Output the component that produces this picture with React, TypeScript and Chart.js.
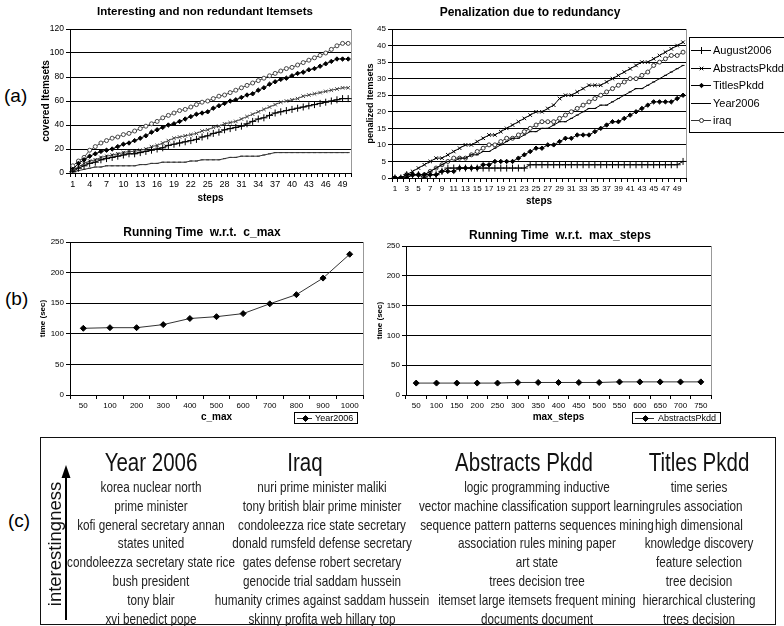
import React, { useEffect, useRef } from 'react';
import { Chart, registerables } from 'chart.js';
import { drawPoint } from 'chart.js/helpers';

Chart.register(...registerables);

const FONT = "'Liberation Sans', Arial, sans-serif";

// ---------- DATA ----------
const steps = ['1','2','3','4','5','6','7','8','9','10','11','12','13','14','15','16','17','18','19','20','21','22','23','24','25','26','27','28','29','30','31','32','33','34','35','36','37','38','39','40','41','42','43','44','45','46','47','48','49','50'];

// (a) left: covered itemsets
const covAugust2006 = [1,4,6,8,9,11,12,13,14,15,16,16,17,18,19,20,21,23,24,25,26,27,28,30,31,33,34,36,37,38,39,41,43,45,46,48,50,51,52,53,54,55,56,57,58,59,60,61,62,62];
const covAbstractsPkdd = [2,5,8,10,11,13,14,15,16,17,18,18,19,20,22,23,25,27,29,30,31,32,33,35,36,38,39,41,42,43,45,47,49,51,53,55,57,59,60,61,62,64,65,66,67,68,69,70,71,71];
const covTitlesPkdd = [3,8,11,14,16,18,19,20,22,24,25,27,29,31,34,36,38,40,41,43,45,47,49,50,51,54,56,58,60,61,63,65,66,69,71,74,76,78,79,81,83,84,86,87,89,91,93,95,95,95];
const covYear2006 = [1,2,3,4,5,5,6,6,6,6,6,6,7,7,8,8,9,9,9,9,9,10,10,11,11,11,11,12,13,13,14,14,14,14,15,16,17,17,17,17,17,17,17,17,17,17,17,17,17,17];
const covIraq = [6,10,13,19,22,25,27,29,30,32,33,35,37,39,41,43,46,48,50,52,53,55,57,59,60,62,64,65,67,69,71,73,75,77,79,81,83,85,87,88,90,92,94,96,98,100,103,106,108,108];

// (a) right: penalized itemsets
const penAugust2006 = [0,0,1,1,1,0,1,1,2,3,3,3,3,3,3,3,3,3,3,3,3,3,3,4,4,4,4,4,4,4,4,4,4,4,4,4,4,4,4,4,4,4,4,4,4,4,4,4,4,5];
const penAbstractsPkdd = [0,0,1,2,3,4,5,6,6,7,8,9,10,10,11,12,13,13,14,15,16,17,18,19,20,20,21,22,24,25,25,26,27,28,28,28,29,30,31,32,33,34,35,35,36,37,38,39,40,41];
const penTitlesPkdd = [0,0,0,1,1,1,1,1,2,2,2,3,3,3,3,4,4,5,5,5,5,6,7,8,9,9,10,10,11,12,12,13,13,13,14,15,16,17,17,18,19,20,21,22,23,23,23,23,24,25];
const penYear2006 = [0,0,0,1,1,1,2,3,4,5,5,6,6,7,7,8,8,9,10,11,12,12,13,14,14,15,15,16,17,17,18,19,20,21,21,22,22,23,24,25,26,27,27,28,29,30,31,32,33,34];
const penIraq = [0,0,1,1,1,1,2,3,4,5,6,6,6,7,8,9,10,10,11,12,12,13,14,15,16,17,17,17,18,19,20,21,22,23,24,25,26,27,28,29,30,30,31,32,34,35,36,37,37,38];

// (b) running time
const cMaxLabels = ['50','100','200','300','400','500','600','700','800','900','1000'];
const cMaxTimes = [109,110,110,115,125,128,133,149,164,191,230];
const maxStepsLabels = ['50','100','150','200','250','300','350','400','450','500','550','600','650','700','750'];
const maxStepsTimes = [20,20,20,20,20,21,21,21,21,21,22,22,22,22,22];

// (c) top itemsets
const headYear2006 = 'Year 2006';
const headIraq = 'Iraq';
const headAbstracts = 'Abstracts Pkdd';
const headTitles = 'Titles Pkdd';
const termsYear2006 = ['korea nuclear north','prime minister','kofi general secretary annan','states united','condoleezza secretary state rice','bush president','tony blair','xvi benedict pope'];
const termsIraq = ['nuri prime minister maliki','tony british blair prime minister','condoleezza rice state secretary','donald rumsfeld defense secretary','gates defense robert secretary','genocide trial saddam hussein','humanity crimes against saddam hussein','skinny profita web hillary top'];
const termsAbstracts = ['logic programming inductive','vector machine classification support learning','sequence pattern patterns sequences mining','association rules mining paper','art state','trees decision tree','itemset large itemsets frequent mining','documents document'];
const termsTitles = ['time series','rules association','high dimensional','knowledge discovery','feature selection','tree decision','hierarchical clustering','trees decision'];

// ---------- PLUGINS ----------
const framePlugin = {
  id: 'frame',
  beforeDatasetsDraw(chart: any) {
    const { ctx, chartArea: a } = chart;
    ctx.save();
    ctx.strokeStyle = '#999';
    ctx.lineWidth = 1;
    ctx.beginPath();
    const x = Math.round(a.right) + 0.5;
    ctx.moveTo(x, a.top);
    ctx.lineTo(x, a.bottom);
    ctx.stroke();
    ctx.restore();
  },
};

const fixedTitlePlugin = {
  id: 'fixedTitle',
  afterDraw(chart: any, _args: any, opts: any) {
    if (!opts || !opts.text) return;
    const ctx = chart.ctx;
    ctx.save();
    ctx.font = opts.font;
    ctx.fillStyle = '#000';
    ctx.textAlign = 'center';
    ctx.textBaseline = 'middle';
    ctx.fillText(opts.text, opts.x, opts.y);
    ctx.restore();
  },
};

const boxLegendPlugin = {
  id: 'boxLegend',
  afterDraw(chart: any, _args: any, opts: any) {
    if (!opts || !opts.display) return;
    const ctx = chart.ctx;
    ctx.save();
    ctx.strokeStyle = '#000';
    ctx.lineWidth = 1;
    ctx.strokeRect(opts.x + 0.5, opts.y + 0.5, opts.w, opts.h);
    chart.data.datasets.forEach((ds: any, i: number) => {
      const cy = Math.round(opts.y + opts.firstY + i * opts.rowH) + 0.5;
      ctx.strokeStyle = ds.borderColor;
      ctx.lineWidth = 1;
      ctx.beginPath();
      ctx.moveTo(opts.x + opts.lineX0, cy);
      ctx.lineTo(opts.x + opts.lineX1, cy);
      ctx.stroke();
      ctx.fillStyle = ds.pointBackgroundColor;
      ctx.strokeStyle = ds.pointBorderColor;
      drawPoint(ctx, { pointStyle: ds.pointStyle, radius: ds.pointRadius, borderWidth: 1, rotation: 0 } as any,
        Math.round(opts.x + (opts.lineX0 + opts.lineX1) / 2) + 0.5, cy);
      ctx.fillStyle = '#000';
      ctx.font = opts.font;
      ctx.textAlign = 'left';
      ctx.textBaseline = 'middle';
      ctx.fillText(ds.label, opts.x + opts.textX, cy);
    });
    ctx.restore();
  },
};

// ---------- HELPERS ----------
const styles: Record<string, any> = {
  August2006: { ps: 'cross', r: 3.5, bg: '#000' },
  AbstractsPkdd: { ps: 'crossRot', r: 2.5, bg: '#000' },
  TitlesPkdd: { ps: 'rectRot', r: 2.2, bg: '#000' },
  Year2006: { ps: 'line', r: 1.5, bg: '#000' },
  iraq: { ps: 'circle', r: 2, bg: '#fff' },
};

function series(label: string, data: number[], styleKey: string, color = '#000') {
  const s = styles[styleKey];
  return {
    label, data,
    borderColor: color, borderWidth: 1,
    pointStyle: s.ps, pointRadius: s.r, pointHoverRadius: s.r,
    pointBackgroundColor: s.bg, pointBorderColor: color, pointBorderWidth: 1,
    tension: 0, fill: false,
  };
}

function xScale(every: number, size: number, title: string, height: number, titlePadBottom: number) {
  return {
    type: 'category',
    offset: true,
    grid: { display: true, drawOnChartArea: false, drawTicks: true, tickLength: 4, offset: true, color: '#000' },
    border: { display: true, color: '#000', width: 1 },
    ticks: {
      autoSkip: false, maxRotation: 0, minRotation: 0, padding: 2, color: '#000',
      font: { family: FONT, size },
      callback: function (this: any, v: any, i: number) { return i % every === 0 ? this.getLabelForValue(v) : ''; },
    },
    title: { display: true, text: title, color: '#000', font: { family: FONT, size: 10, weight: 'bold' }, padding: { top: 0, bottom: titlePadBottom } },
    afterFit: (s: any) => { s.height = height; },
  };
}

function yScale(max: number, step: number, size: number, title: string, titleSize: number, width: number, titlePadTop: number) {
  return {
    min: 0, max,
    grid: { color: '#000', lineWidth: 1, drawTicks: true, tickLength: 4 },
    border: { display: true, color: '#000', width: 1 },
    ticks: { stepSize: step, padding: 2, color: '#000', font: { family: FONT, size } },
    title: { display: true, text: title, color: '#000', font: { family: FONT, size: titleSize, weight: 'bold' }, padding: { top: titlePadTop, bottom: 0 } },
    afterFit: (s: any) => { s.width = width; },
  };
}

function baseOptions(padding: any, scales: any, plugins: any) {
  return {
    responsive: false,
    animation: false,
    events: [],
    layout: { padding },
    scales,
    plugins: { legend: { display: false }, tooltip: { enabled: false }, title: { display: false }, ...plugins },
  };
}

function ChartCanvas({ left, top, width, height, make }: { left: number; top: number; width: number; height: number; make: () => any }) {
  const ref = useRef<HTMLCanvasElement>(null);
  useEffect(() => {
    const chart = new Chart(ref.current as HTMLCanvasElement, make());
    return () => chart.destroy();
  }, []);
  return <canvas ref={ref} width={width} height={height} style={{ position: 'absolute', left, top, width, height }} />;
}

// ---------- CHART CONFIGS ----------
const makeCovered = () => ({
  type: 'line',
  data: {
    labels: steps,
    datasets: [
      series('August2006', covAugust2006, 'August2006'),
      series('AbstractsPkdd', covAbstractsPkdd, 'AbstractsPkdd', '#444'),
      series('TitlesPkdd', covTitlesPkdd, 'TitlesPkdd'),
      series('Year2006', covYear2006, 'Year2006', '#333'),
      series('iraq', covIraq, 'iraq', '#444'),
    ],
  },
  options: baseOptions(
    { left: 0, top: 29, right: 14, bottom: 5 },
    { x: xScale(3, 9, 'steps', 32, 1), y: yScale(120, 20, 8.5, 'covered Itemsets', 10, 30, 0) },
    { fixedTitle: { text: 'Interesting and non redundant Itemsets', x: 165, y: 12, font: `bold 11.5px ${FONT}` } },
  ),
  plugins: [framePlugin, fixedTitlePlugin],
});

const makePenalized = () => ({
  type: 'line',
  data: {
    labels: steps,
    datasets: [
      series('August2006', penAugust2006, 'August2006'),
      series('AbstractsPkdd', penAbstractsPkdd, 'AbstractsPkdd'),
      series('TitlesPkdd', penTitlesPkdd, 'TitlesPkdd'),
      series('Year2006', penYear2006, 'Year2006'),
      series('iraq', penIraq, 'iraq', '#333'),
    ],
  },
  options: baseOptions(
    { left: 0, top: 29, right: 98, bottom: 2 },
    { x: xScale(2, 8, 'steps', 30, 1), y: yScale(45, 5, 8, 'penalized Itemsets', 9, 27, 0) },
    {
      fixedTitle: { text: 'Penalization due to redundancy', x: 165, y: 13, font: `bold 12px ${FONT}` },
      boxLegend: { display: true, x: 324, y: 37, w: 96, h: 95, firstY: 13, rowH: 17.6, lineX0: 2, lineX1: 22, textX: 24, font: `11px ${FONT}` },
    },
  ),
  plugins: [framePlugin, fixedTitlePlugin, boxLegendPlugin],
});

const makeCMax = () => ({
  type: 'line',
  data: {
    labels: cMaxLabels,
    datasets: [{ ...series('Year2006', cMaxTimes, 'TitlesPkdd', '#333'), pointRadius: 3, pointHoverRadius: 3, pointBackgroundColor: '#000', pointBorderColor: '#000' }],
  },
  options: baseOptions(
    { left: 0, top: 22, right: 12, bottom: 7 },
    { x: xScale(1, 8, 'c_max', 28, 0), y: yScale(250, 50, 8, 'time (sec)', 8, 40, 8) },
    {
      fixedTitle: { text: 'Running Time  w.r.t.  c_max', x: 172, y: 13, font: `bold 12px ${FONT}` },
      boxLegend: { display: true, x: 264, y: 192, w: 63, h: 11, firstY: 5.5, rowH: 0, lineX0: 3, lineX1: 18, textX: 21, font: `9px ${FONT}` },
    },
  ),
  plugins: [framePlugin, fixedTitlePlugin, boxLegendPlugin],
});

const makeMaxSteps = () => ({
  type: 'line',
  data: {
    labels: maxStepsLabels,
    datasets: [{ ...series('AbstractsPkdd', maxStepsTimes, 'TitlesPkdd', '#333'), pointRadius: 3, pointHoverRadius: 3, pointBackgroundColor: '#000', pointBorderColor: '#000' }],
  },
  options: baseOptions(
    { left: 0, top: 26, right: 73, bottom: 7 },
    { x: xScale(1, 8, 'max_steps', 28, 0), y: yScale(250, 50, 8, 'time (sec)', 8, 31, 0) },
    {
      fixedTitle: { text: 'Running Time  w.r.t.  max_steps', x: 185, y: 16, font: `bold 12px ${FONT}` },
      boxLegend: { display: true, x: 257, y: 192, w: 88, h: 11, firstY: 5.5, rowH: 0, lineX0: 3, lineX1: 22, textX: 26, font: `9px ${FONT}` },
    },
  ),
  plugins: [framePlugin, fixedTitlePlugin, boxLegendPlugin],
});

// ---------- TEXT TABLE ----------
const rowY = [486, 504.8, 523.6, 542.4, 561.2, 580, 598.8, 617.6];

function Cell({ x, y, size, text, sx, color = '#222' }: { x: number; y: number; size: number; text: string; sx: number; color?: string }) {
  return (
    <div style={{
      position: 'absolute', left: x, top: y, whiteSpace: 'nowrap', fontFamily: FONT, fontSize: size,
      lineHeight: 1, color, transform: `translate(-50%, -50%) scaleX(${sx})`,
    }}>{text}</div>
  );
}

function Column({ headX, rowX, head, terms }: { headX: number; rowX: number; head: string; terms: string[] }) {
  return (
    <>
      <Cell x={headX} y={462} size={25} sx={0.82} text={head} color="#111" />
      {terms.map((t, i) => <Cell key={i} x={rowX} y={rowY[i]} size={15} sx={0.78} text={t} />)}
    </>
  );
}

const labelStyle: React.CSSProperties = { position: 'absolute', fontFamily: FONT, fontSize: 19, lineHeight: 1, color: '#000', transform: 'translateY(-50%)' };

export default function App() {
  return (
    <div style={{ position: 'absolute', left: 0, top: 0, width: 784, height: 626, background: '#fff', overflow: 'hidden' }}>
      <div style={{ ...labelStyle, left: 4, top: 95 }}>(a)</div>
      <div style={{ ...labelStyle, left: 5, top: 298 }}>(b)</div>
      <div style={{ ...labelStyle, left: 8, top: 520 }}>(c)</div>

      <ChartCanvas left={40} top={0} width={325} height={210} make={makeCovered} />
      <ChartCanvas left={365} top={0} width={419} height={210} make={makePenalized} />
      <ChartCanvas left={30} top={220} width={345} height={210} make={makeCMax} />
      <ChartCanvas left={375} top={220} width={409} height={210} make={makeMaxSteps} />

      <div style={{ position: 'absolute', left: 40, top: 437, width: 736, height: 188, border: '1px solid #111', boxSizing: 'border-box' }} />
      <svg style={{ position: 'absolute', left: 0, top: 0 }} width={784} height={626}>
        <line x1={66} y1={620} x2={66} y2={474} stroke="#000" strokeWidth={2} />
        <polygon points="66,465 61.5,478 70.5,478" fill="#000" />
      </svg>
      <div style={{
        position: 'absolute', left: 55, top: 544, whiteSpace: 'nowrap', fontFamily: FONT, fontSize: 18.5, lineHeight: 1,
        color: '#111', transform: 'translate(-50%, -50%) rotate(-90deg)',
      }}>interestingness</div>

      <Column headX={151} rowX={151} head={headYear2006} terms={termsYear2006} />
      <Column headX={305} rowX={322} head={headIraq} terms={termsIraq} />
      <Column headX={524} rowX={537} head={headAbstracts} terms={termsAbstracts} />
      <Column headX={699} rowX={699} head={headTitles} terms={termsTitles} />
    </div>
  );
}
